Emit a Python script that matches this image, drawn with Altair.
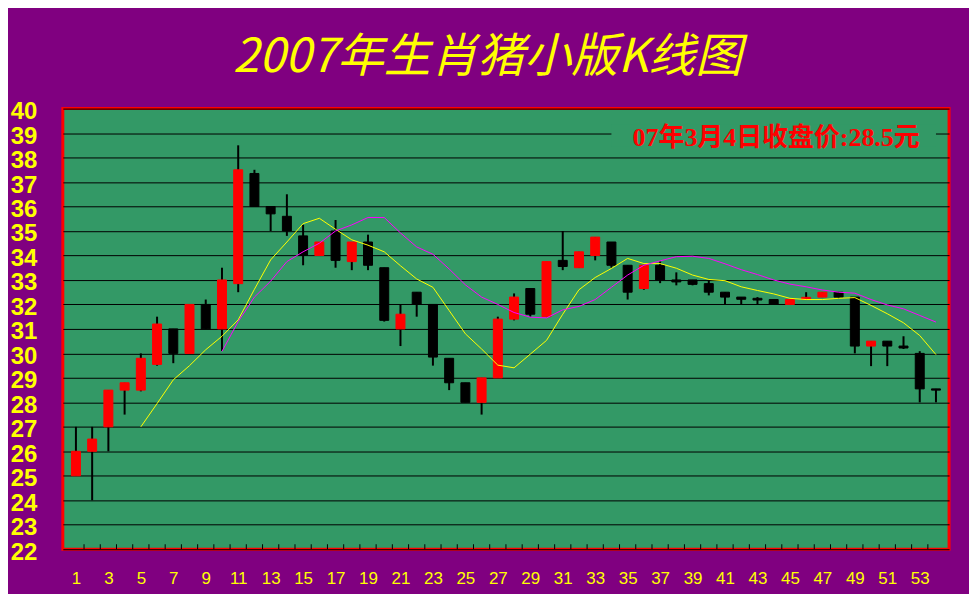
import altair as alt
import pandas as pd

# ---- data ----
days = list(range(1, 55))
opens = [25.0, 26.0, 27.0, 28.5, 28.5, 29.55, 31.0, 30.0, 32.0, 31.0,
         32.85, 37.35, 36.0, 35.6, 34.8, 34.0, 35.0, 33.75, 34.55, 33.5,
         31.0, 32.5, 32.0, 29.8, 28.8, 28.0, 29.0, 31.4, 32.65, 31.5,
         33.8, 33.5, 34.0, 34.55, 33.6, 32.65, 33.6, 33.0, 33.0, 32.85,
         32.5, 32.3, 32.25, 32.2, 32.0, 32.2, 32.3, 32.5, 32.3, 30.3,
         30.5, 30.3, 30.0, 28.55]
closes = [26.0, 26.5, 28.5, 28.8, 29.8, 31.2, 30.0, 32.0, 31.0, 33.0,
          37.5, 36.0, 35.7, 35.0, 34.0, 34.55, 33.8, 34.55, 33.6, 31.35,
          31.6, 32.0, 29.85, 28.8, 28.0, 29.0, 31.4, 32.3, 31.6, 33.75,
          33.55, 34.15, 34.75, 33.6, 32.5, 33.6, 33.0, 32.92, 32.82, 32.5,
          32.3, 32.21, 32.18, 32.0, 32.2, 32.29, 32.5, 32.3, 30.3, 30.5,
          30.3, 30.22, 28.55, 28.5]
highs = [27.0, 27.0, 28.5, 28.8, 30.0, 31.5, 31.0, 32.0, 32.2, 33.5,
         38.5, 37.5, 36.0, 36.5, 35.25, 34.55, 35.45, 34.55, 34.85, 33.5,
         32.0, 32.5, 32.0, 29.8, 28.8, 29.0, 31.5, 32.45, 32.65, 33.75,
         35.0, 34.15, 34.75, 34.55, 33.6, 33.6, 33.76, 33.31, 33.0, 32.98,
         32.5, 32.3, 32.3, 32.2, 32.2, 32.5, 32.5, 32.48, 32.3, 30.5,
         30.5, 30.7, 30.09, 28.55]
lows = [25.0, 24.0, 26.0, 27.5, 28.45, 29.5, 29.6, 30.0, 31.0, 30.1,
        32.5, 36.0, 35.0, 34.8, 33.6, 34.0, 33.5, 33.4, 33.4, 31.3,
        30.3, 31.5, 29.5, 28.5, 28.0, 27.5, 29.0, 31.35, 31.5, 31.5,
        33.4, 33.5, 33.8, 33.5, 32.2, 32.6, 32.87, 32.78, 32.78, 32.37,
        32.0, 32.0, 32.0, 32.0, 32.0, 32.2, 32.3, 32.25, 30.0, 29.48,
        29.48, 30.18, 28.0, 28.0]
ma5 = [None, None, None, None,
       27.0, 27.95, 28.92, 29.5, 30.15, 30.7, 31.37, 32.62, 33.82, 34.55,
       35.3, 35.52, 35.07, 34.64, 34.42, 34.15, 33.58, 33.04, 32.7, 31.75,
       30.8, 30.18, 29.52, 29.41, 29.97, 30.53, 31.6, 32.6, 33.1, 33.47,
       33.88, 33.67, 33.67, 33.48, 33.2, 33.02, 32.97, 32.72, 32.57, 32.43,
       32.25, 32.2, 32.2, 32.25, 32.28, 31.96, 31.62, 31.25, 30.73, 29.95]
ma10 = [None, None, None, None, None, None, None, None, None,
        30.08, 31.3, 32.3, 32.95, 33.75, 34.15, 34.5, 35.0, 35.25, 35.55,
        35.55, 34.92, 34.35, 34.05, 33.45, 32.8, 32.3, 32.0, 31.67, 31.48,
        31.45, 31.78, 31.92, 32.2, 32.7, 33.2, 33.6, 33.78, 33.95, 33.97,
        33.88, 33.66, 33.42, 33.22, 33.0, 32.83, 32.72, 32.59, 32.5, 32.46,
        32.2, 31.98, 31.82, 31.55, 31.28]

x_label_values = list(range(1, 54, 2))
y_label_values = list(range(22, 41))
tick_positions = [i + 0.5 for i in range(1, 54)]

title_text = "2007年生肖猪小版K线图"
note_text = "07年3月4日收盘价:28.5元"
note_x = [44.15]
note_y = [38.81]
note_box_x = [34.0, 54.0]
note_box_y = [38.45, 39.35]

# ---- tables ----
df = pd.DataFrame({"day": days, "open": opens, "close": closes,
                   "high": highs, "low": lows, "ma5": ma5, "ma10": ma10})
ticks_df = pd.DataFrame({"day": tick_positions})
note_df = pd.DataFrame({"day": note_x, "v": note_y, "t": [note_text]})
box_df = pd.DataFrame({"day": [note_box_x[0]], "day2": [note_box_x[1]],
                       "v": [note_box_y[0]], "v2": [note_box_y[1]]})
title_df = pd.DataFrame({"t": [title_text]})

PLOT_W, PLOT_H = 889, 442

xscale = alt.Scale(domain=[0.5, 54.5], nice=False, zero=False)
yscale = alt.Scale(domain=[22, 40], nice=False, zero=False)
xaxis = alt.Axis(values=x_label_values, title=None, grid=False, domain=False,
                 ticks=False, tickSize=0, labelColor="#FFFF00", labelFontSize=17,
                 labelFont="Liberation Sans", labelPadding=21, labelFlush=False,
                 labelOverlap=False)
yaxis = alt.Axis(values=y_label_values, title=None, grid=True, gridColor="#000000",
                 gridOpacity=1, gridWidth=1, domain=False, ticks=False, tickSize=0,
                 labelColor="#FFFF00", labelFontSize=24, labelFont="Liberation Sans",
                 labelFontWeight="bold",
                 labelPadding=26, labelOffset=3, labelFlush=False, labelOverlap=False)


def X(field="day"):
    return alt.X(f"{field}:Q", scale=xscale, axis=xaxis)


def Y(field):
    return alt.Y(f"{field}:Q", scale=yscale, axis=yaxis)


box = alt.Chart(box_df).mark_rect(color="#339966").encode(
    x=X("day"), x2="day2:Q", y=Y("v"), y2="v2:Q")

ticks = alt.Chart(ticks_df).mark_rule(color="#000000", strokeWidth=1).encode(
    x=X("day"), y=alt.value(PLOT_H), y2=alt.value(PLOT_H - 5))

wicks = alt.Chart(df).mark_rule(color="#000000", strokeWidth=2).encode(
    x=X("day"), y=Y("low"), y2="high:Q")

updown = alt.condition("datum.close > datum.open", alt.value("#FF0000"), alt.value("#000000"))
bodies = alt.Chart(df).mark_bar(size=9, strokeWidth=1).encode(
    x=X("day"), y=Y("open"), y2="close:Q", color=updown, stroke=updown)

line5 = alt.Chart(df).mark_line(color="#FFFF00", strokeWidth=1).encode(
    x=X("day"), y=Y("ma5"))
line10 = alt.Chart(df).mark_line(color="#FF00FF", strokeWidth=1).encode(
    x=X("day"), y=Y("ma10"))

note = alt.Chart(note_df).mark_text(
    color="#FF0000", fontSize=26, fontWeight="bold",
    font="Liberation Serif, Noto Sans CJK SC", align="center", baseline="middle"
).encode(x=X("day"), y=Y("v"), text="t:N")

title = alt.Chart(title_df).mark_text(
    color="#FFFF00", fontSize=47, fontStyle="italic",
    font="Noto Sans CJK SC", align="center", baseline="middle"
).encode(x=alt.value(426), y=alt.value(-51), text="t:N")

chart = alt.layer(box, ticks, wicks, bodies, line5, line10, note, title).properties(
    width=PLOT_W, height=PLOT_H,
    autosize=alt.AutoSizeParams(type="none"),
    padding={"left": 55, "top": 100, "right": 20, "bottom": 44},
    background="#800080",
).configure_view(fill="#339966", stroke="#FF0000", strokeWidth=3)

chart.save("out.html", embed_options={"renderer": "svg", "actions": False})
